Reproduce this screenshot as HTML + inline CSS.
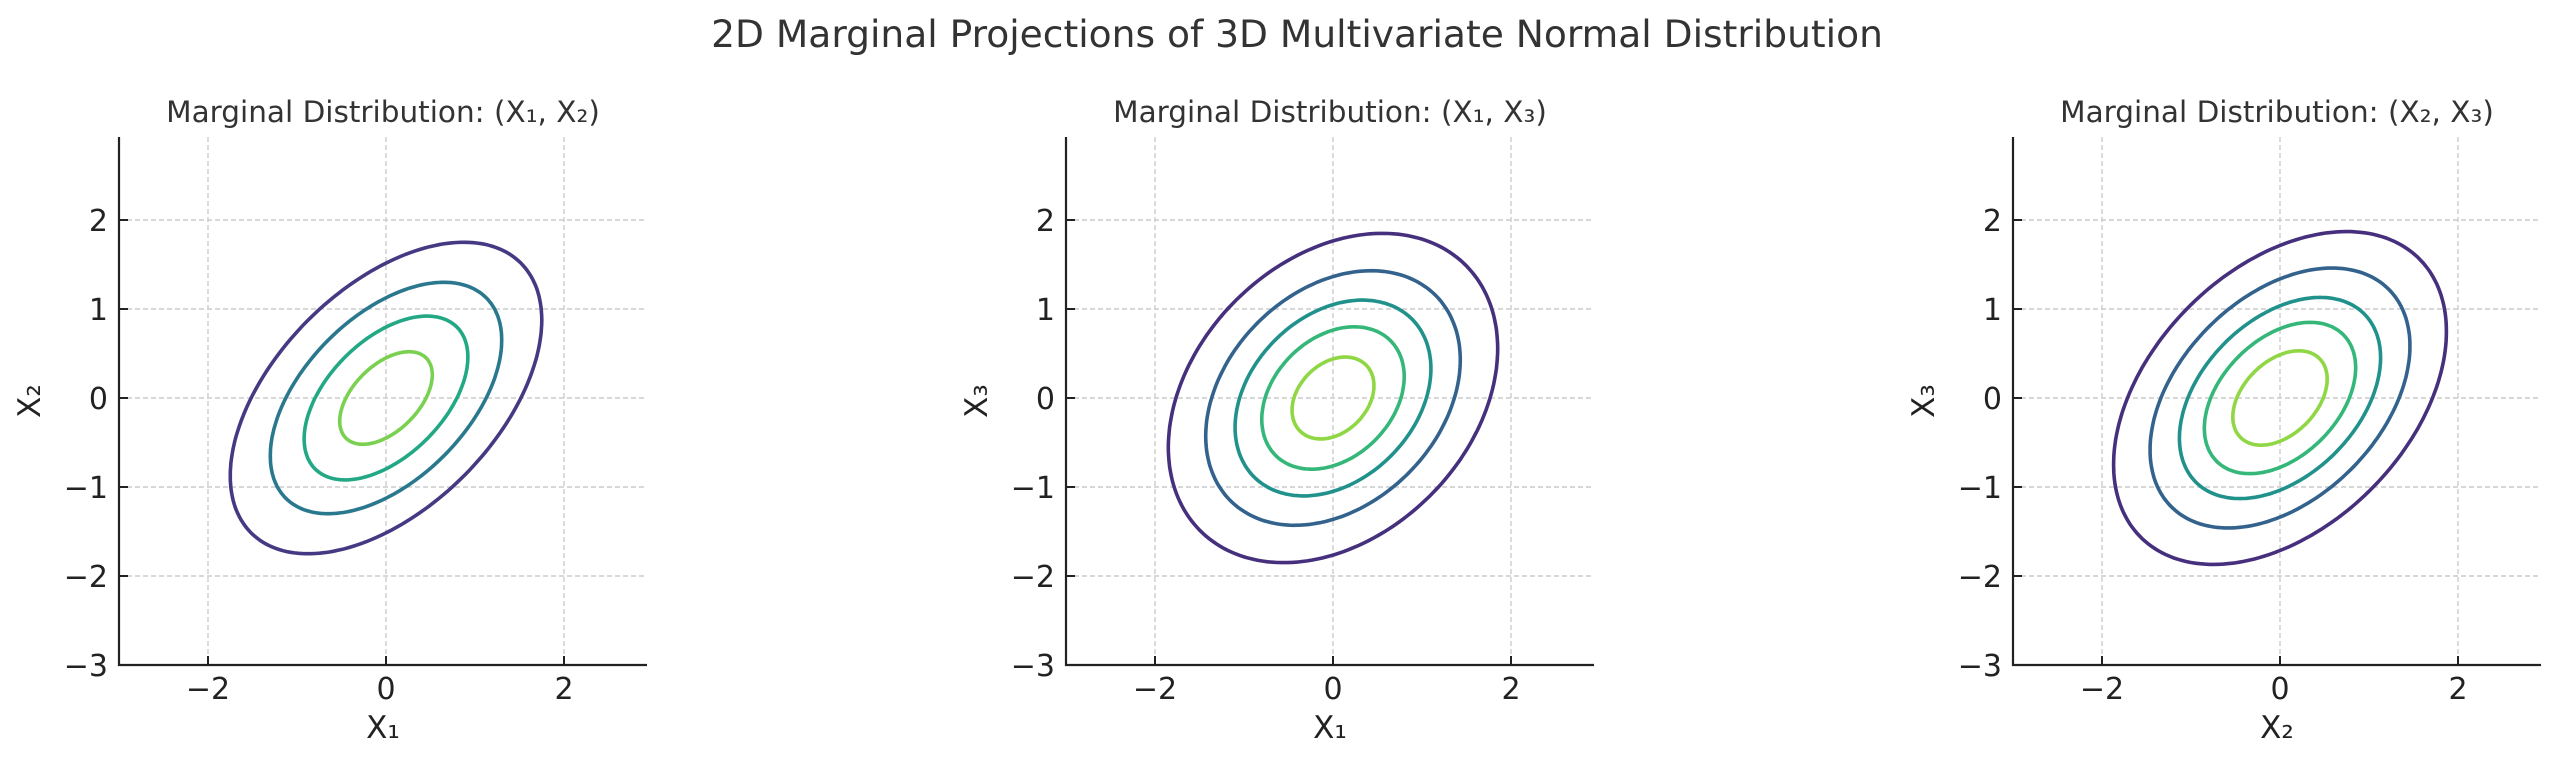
<!DOCTYPE html>
<html><head><meta charset="utf-8"><style>
html,body{margin:0;padding:0;background:#fff;}
svg{display:block;font-family:"DejaVu Sans","Liberation Sans",sans-serif;}
</style></head><body>
<svg id="s" width="2560" height="768" viewBox="0 0 2560 768" xmlns="http://www.w3.org/2000/svg">
<text x="1297" y="47" font-size="37.6" fill="#333" text-anchor="middle">2D Marginal Projections of 3D Multivariate Normal Distribution</text>
</svg>
<script>
(function(){
const s=document.getElementById('s');
const NS='http://www.w3.org/2000/svg';
function el(t,a,txt){const e=document.createElementNS(NS,t);for(const k in a)e.setAttribute(k,a[k]);if(txt)e.textContent=txt;s.appendChild(e);return e;}
const U=89;
const panels=[
 {left:119,title:'Marginal Distribution: (X₁, X₂)',xl:'X₁',yl:'X₂',rho:0.5,
  lv:[[1.75,'#443983'],[1.30,'#2a788e'],[0.92,'#22a884'],[0.52,'#7ad151']]},
 {left:1066,title:'Marginal Distribution: (X₁, X₃)',xl:'X₁',yl:'X₃',rho:0.3,
  lv:[[1.85,'#46307e'],[1.43,'#33638d'],[1.10,'#21918c'],[0.80,'#35b779'],[0.46,'#8fd744']]},
 {left:2013,title:'Marginal Distribution: (X₂, X₃)',xl:'X₂',yl:'X₃',rho:0.4,
  lv:[[1.87,'#46307e'],[1.46,'#33638d'],[1.13,'#21918c'],[0.85,'#35b779'],[0.53,'#8fd744']]}
];
const bot=665, tp=137;
panels.forEach(p=>{
 const x0=p.left+3*U, y0=bot-3*U, right=p.left+528;
 const X=v=>x0+v*U, Y=v=>y0-v*U;
 [-2,0,2].forEach(v=>el('line',{x1:X(v),x2:X(v),y1:tp,y2:bot,stroke:'#cccccc','stroke-width':1.4,'stroke-dasharray':'5,3'}));
 [-2,-1,0,1,2].forEach(v=>el('line',{x1:p.left,x2:right,y1:Y(v),y2:Y(v),stroke:'#cccccc','stroke-width':1.4,'stroke-dasharray':'5,3'}));
 const r=p.rho, q=Math.sqrt(1-r*r);
 p.lv.forEach(([e,c])=>{
  let d='';
  for(let i=0;i<=200;i++){const t=i/200*2*Math.PI;const xv=e*Math.cos(t), yv=e*(r*Math.cos(t)+q*Math.sin(t));
   d+=(i?'L':'M')+X(xv).toFixed(1)+' '+Y(yv).toFixed(1);}
  el('path',{d:d+'Z',fill:'none',stroke:c,'stroke-width':3.6});
 });
 el('line',{x1:p.left,x2:p.left,y1:tp,y2:bot+1,stroke:'#222','stroke-width':2.2});
 el('line',{x1:p.left-1,x2:right,y1:bot,y2:bot,stroke:'#222','stroke-width':2.2});
 [-2,0,2].forEach(v=>{el('line',{x1:X(v),x2:X(v),y1:bot,y2:bot-9,stroke:'#222','stroke-width':2});
  el('text',{x:X(v),y:bot+34,'font-size':30,fill:'#222','text-anchor':'middle'},v<0?'\u2212'+(-v):''+v);});
 [-3,-2,-1,0,1,2].forEach(v=>{el('line',{x1:p.left,x2:p.left+9,y1:Y(v),y2:Y(v),stroke:'#222','stroke-width':2});
  el('text',{x:p.left-11,y:Y(v)+11,'font-size':30,fill:'#222','text-anchor':'end'},v<0?'\u2212'+(-v):''+v);});
 el('text',{x:(p.left+right)/2,y:738,'font-size':31,fill:'#222','text-anchor':'middle'},p.xl);
 el('text',{x:0,y:0,'font-size':31,fill:'#222','text-anchor':'middle',transform:'translate('+(p.left-79)+','+((tp+bot)/2)+') rotate(-90)'},p.yl);
 el('text',{x:(p.left+right)/2,y:122,'font-size':29.5,fill:'#333','text-anchor':'middle'},p.title);
});
})();
</script>
</body></html>
